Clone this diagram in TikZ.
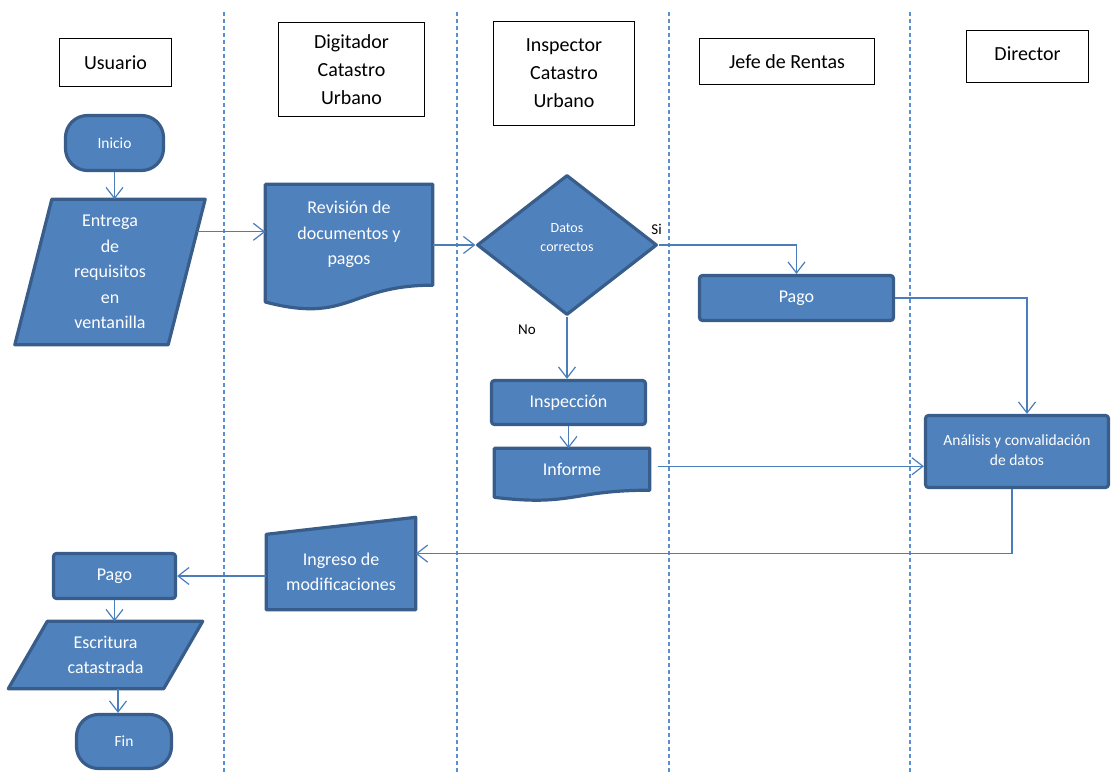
\documentclass[tikz,border=0pt]{standalone}
\usepackage{fontspec}
\setmainfont{Carlito}
\usetikzlibrary{arrows.meta,calc,shapes.geometric,backgrounds}
\definecolor{boxfill}{HTML}{4F81BD}
\definecolor{boxedge}{HTML}{385D8A}
\definecolor{linkblue}{HTML}{4A7EBB}
\definecolor{laneblue}{HTML}{5B8FD0}
\begin{document}
\begin{tikzpicture}[x=1pt,y=-1pt,
  lane/.style={laneblue, line width=1.1pt, dash pattern=on 4pt off 3pt},
  header/.style={rectangle, draw=black, line width=1.1pt, fill=white, inner sep=0pt,
    align=center, font=\fontsize{20}{28}\selectfont},
  flowfill/.style={fill=boxfill, draw=boxedge, line width=3.2pt, line join=round},
  inside/.style={text=white, align=center, inner sep=0pt, font=\fontsize{18}{25.5}\selectfont},
  process/.style={rectangle, flowfill, rounded corners=3pt, inside},
  terminal/.style={rectangle, flowfill, rounded corners=22pt, inside, font=\fontsize{15.5}{18}\selectfont},
  freebox/.style={rectangle, inside},
  decision/.style={diamond, flowfill, inner sep=0pt},
  answer/.style={text=black, inner sep=0pt, font=\fontsize{15}{18}\selectfont},
  arr/.style={linkblue, line width=1.2pt, -{Straight Barb[length=11pt,width=17pt]}},
]
\useasboundingbox (0,0) rectangle (1112,773);

% swimlane separators
\foreach \lx in {224,457,669,910} \draw[lane] (\lx,12) -- (\lx,773);

% lane headers
\node[header, minimum width=112pt, minimum height=48pt] (usuario) at (115.5,62.5) {Usuario};
\node[header, minimum width=146pt, minimum height=94pt] (digitador) at (351.5,69.5) {Digitador\\Catastro\\Urbano};
\node[header, minimum width=141pt, minimum height=104pt] (inspector) at (564,73.5) {Inspector\\Catastro\\Urbano};
\node[header, minimum width=175pt, minimum height=46pt] (jefe) at (787,61.5) {Jefe de Rentas};
\node[header, minimum width=122pt, minimum height=52pt] (director) at (1027.5,56.5) {\raisebox{6.5pt}{Director}};

% Usuario lane
\node[terminal, minimum width=98pt, minimum height=55pt] (inicio) at (114.5,143) {Inicio};
\node[freebox, minimum width=190pt, minimum height=145pt] (entrega) at (110,272) {Entrega\\de\\requisitos\\en\\ventanilla};
\node[process, minimum width=122pt, minimum height=45pt] (pagou) at (114.5,576) {Pago};
\node[freebox, minimum width=194pt, minimum height=67pt] (escritura) at (105.5,655) {Escritura\\catastrada};
\node[terminal, minimum width=95pt, minimum height=54pt] (fin) at (124,741.5) {Fin};

% Digitador lane
\node[freebox, minimum width=167pt, minimum height=100.5pt] (revision) at (349,234.75) {Revisión de\\documentos y\\pagos};
\node[freebox, minimum width=149pt, minimum height=75pt] (ingreso) at (341,572) {Ingreso de\\modificaciones};

% Inspector lane
\node[decision, minimum width=180pt, minimum height=140pt] (datos) at (567,245) {};
\node[inside, font=\fontsize{14}{19}\selectfont] (datostxt) at ($(datos.center)+(0,-7.5)$) {Datos\\correctos};
\node[process, minimum width=154pt, minimum height=44pt] (inspeccion) at (568.5,402.5) {Inspección};
\node[freebox, minimum width=155pt, minimum height=41.5pt] (informe) at (572,469.25) {Informe};

% Jefe de Rentas lane
\node[process, minimum width=194pt, minimum height=45pt] (pagoj) at (796.5,298) {Pago};

% Director lane
\node[process, minimum width=183pt, minimum height=72pt, font=\fontsize{15.5}{20}\selectfont] (analisis) at (1017,451.5) {\raisebox{3pt}{Análisis y convalidación}\\\raisebox{3pt}{de datos}};

% outlines of the non-rectangular symbols
\begin{scope}[on background layer]
  \draw[flowfill] ($(entrega.north west)+(37,0)$) -- (entrega.north east)
    -- ($(entrega.south east)+(-37,0)$) -- (entrega.south west) -- cycle;
  \draw[flowfill] ($(escritura.north west)+(39,0)$) -- (escritura.north east)
    -- ($(escritura.south east)+(-39,0)$) -- (escritura.south west) -- cycle;
  \draw[flowfill] (revision.north west) -- (revision.north east) -- (revision.south east)
    .. controls (revision.south) and ($(revision.south)+(0,38.8)$) .. ($(revision.south west)+(0,16.8)$) -- cycle;
  \draw[flowfill] (informe.north west) -- (informe.north east) -- (informe.south east)
    .. controls (informe.south) and ($(informe.south)+(0,16.5)$) .. ($(informe.south west)+(0,7.1)$) -- cycle;
  \draw[flowfill] (ingreso.north west) -- ($(ingreso.north east)+(0,-17)$)
    -- (ingreso.south east) -- (ingreso.south west) -- cycle;
\end{scope}

% connectors
\draw[arr] (inicio.south) -- (inicio.south |- entrega.north);
\coordinate (entregaout) at ($(entrega.north east)+(-8.3,32.5)$);
\draw[arr] (entregaout) -- (entregaout -| revision.west);
\draw[arr] (revision.east |- datos.west) -- (datos.west);
\draw[arr] (datos.east) -- (datos.east -| pagoj.north) -- (pagoj.north);
\node[answer] (si) at ($(datos.east)+(-2,-16)$) {Si};
\draw[arr] (datos.south) -- (datos.south |- inspeccion.north);
\node[answer] (no) at ($(datos.south)+(-40,13)$) {No};
\draw[arr] (inspeccion.south) -- (inspeccion.south |- informe.north);
\coordinate (informeout) at ($(informe.east)+(8,-3)$);
\draw[arr] (informeout) -- (informeout -| analisis.west);
\coordinate (pagoin) at ($(analisis.north)+(10,0)$);
\draw[arr] (pagoj.east) -- (pagoj.east -| pagoin) -- (pagoin);
\coordinate (analisisout) at ($(analisis.south)+(-5,0)$);
\coordinate (retorno) at ($(analisisout)+(0,64.5)$);
\draw[arr] (analisisout) -- (retorno) -- (retorno -| ingreso.east);
\draw[arr] (ingreso.west |- pagou.east) -- (pagou.east);
\draw[arr] (pagou.south) -- (pagou.south |- escritura.north);
\coordinate (finin) at ($(fin.north)+(-6,0)$);
\draw[arr] (finin |- escritura.south) -- (finin);
\end{tikzpicture}
\end{document}
